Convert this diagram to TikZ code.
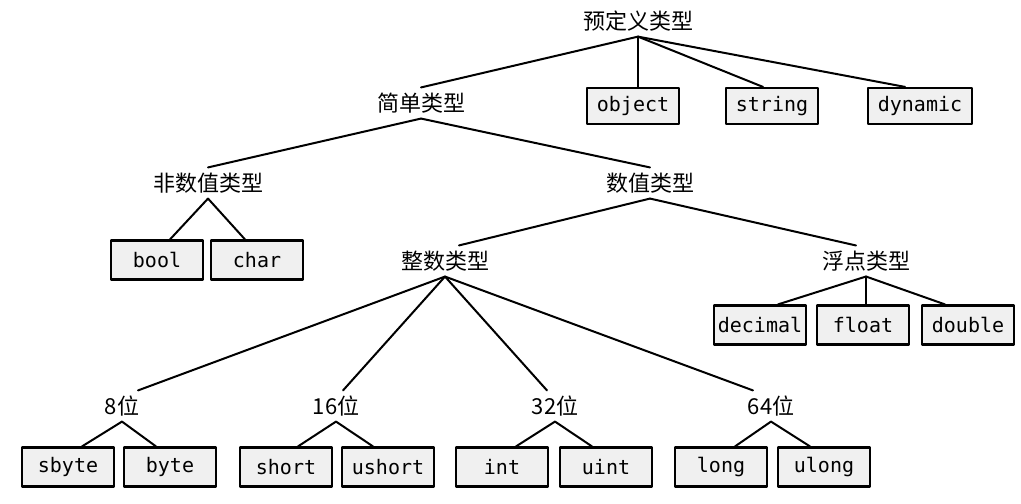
\documentclass[tikz,border=0pt]{standalone}
\usepackage{fontspec}
\newfontfamily\cjk{Noto Sans CJK SC}
\setmonofont{DejaVu Sans Mono}

\begin{document}
\begin{tikzpicture}[x=0.5pt,y=-0.5pt, line cap=round,line join=round,
  kind/.style={font=\cjk\fontsize{11}{12}\selectfont, inner sep=2.5pt},
  tbox/.style={draw, line width=1.1pt, fill=black!6, minimum width=46pt, minimum height=19.5pt, inner sep=0pt, font=\ttfamily\fontsize{10}{11}\selectfont}]
\useasboundingbox (0,0) rectangle (1021,503);
% levels of type names
\node[kind] (pre) at (638,21) {预定义类型};
\node[kind] (simple) at (421,103) {简单类型};
\node[kind] (nonnum) at (208,183) {非数值类型};
\node[kind] (num) at (650,183) {数值类型};
\node[kind] (int) at (445,261) {整数类型};
\node[kind] (flt) at (866,261) {浮点类型};
\node[kind] (b8) at (122,406) {8位};
\node[kind] (b16) at (336,406) {16位};
\node[kind] (b32) at (555,406) {32位};
\node[kind] (b64) at (771,406) {64位};
% boxes
\node[tbox, minimum height=18pt] (object) at (633,106) {object};
\node[tbox, minimum height=18pt] (string) at (772,106) {string};
\node[tbox, minimum height=18pt, minimum width=52pt] (dynamic) at (920,106) {dynamic};
\node[tbox] (bool) at (157,260) {bool};
\node[tbox] (char) at (257,260) {char};
\node[tbox] (decimal) at (760,325) {decimal};
\node[tbox] (float) at (863,325) {float};
\node[tbox] (double) at (968,325) {double};
\node[tbox] (sbyte) at (68,467) {sbyte};
\node[tbox] (byte) at (170,467) {byte};
\node[tbox] (short) at (286,467) {short};
\node[tbox] (ushort) at (388,467) {ushort};
\node[tbox] (int1) at (502,467) {int};
\node[tbox] (uint) at (606,467) {uint};
\node[tbox] (long) at (721,467) {long};
\node[tbox] (ulong) at (824,467) {ulong};
% lines
\begin{scope}[line width=1pt]
\draw (pre.south) -- (simple.north);
\draw (pre.south) -- (object.north -| pre.south);
\draw (pre.south) -- ([xshift=-4.5pt]string.north);
\draw (pre.south) -- ([xshift=-7.5pt]dynamic.north);
\draw (simple.south) -- (nonnum.north);
\draw (simple.south) -- (num.north);
\draw (nonnum.south) -- ([xshift=6.5pt]bool.north);
\draw (nonnum.south) -- ([xshift=-6pt]char.north);
\draw (num.south) -- ([xshift=7pt]int.north);
\draw (num.south) -- ([xshift=-5pt]flt.north);
\draw (flt.south) -- ([xshift=9pt]decimal.north);
\draw (flt.south) -- (float.north -| flt.south);
\draw (flt.south) -- ([xshift=-11.5pt]double.north);
\draw (int.south) -- ([xshift=8pt]b8.north);
\draw (int.south) -- ([xshift=3.5pt]b16.north);
\draw (int.south) -- ([xshift=-4pt]b32.north);
\draw (int.south) -- ([xshift=-9pt]b64.north);
\draw (b8.south) -- ([xshift=7pt]sbyte.north);
\draw (b8.south) -- ([xshift=-7pt]byte.north);
\draw (b16.south) -- ([xshift=6pt]short.north);
\draw (b16.south) -- ([xshift=-7.5pt]ushort.north);
\draw (b32.south) -- ([xshift=7pt]int1.north);
\draw (b32.south) -- ([xshift=-7pt]uint.north);
\draw (b64.south) -- ([xshift=7pt]long.north);
\draw (b64.south) -- ([xshift=-7pt]ulong.north);
\end{scope}
\end{tikzpicture}
\end{document}
